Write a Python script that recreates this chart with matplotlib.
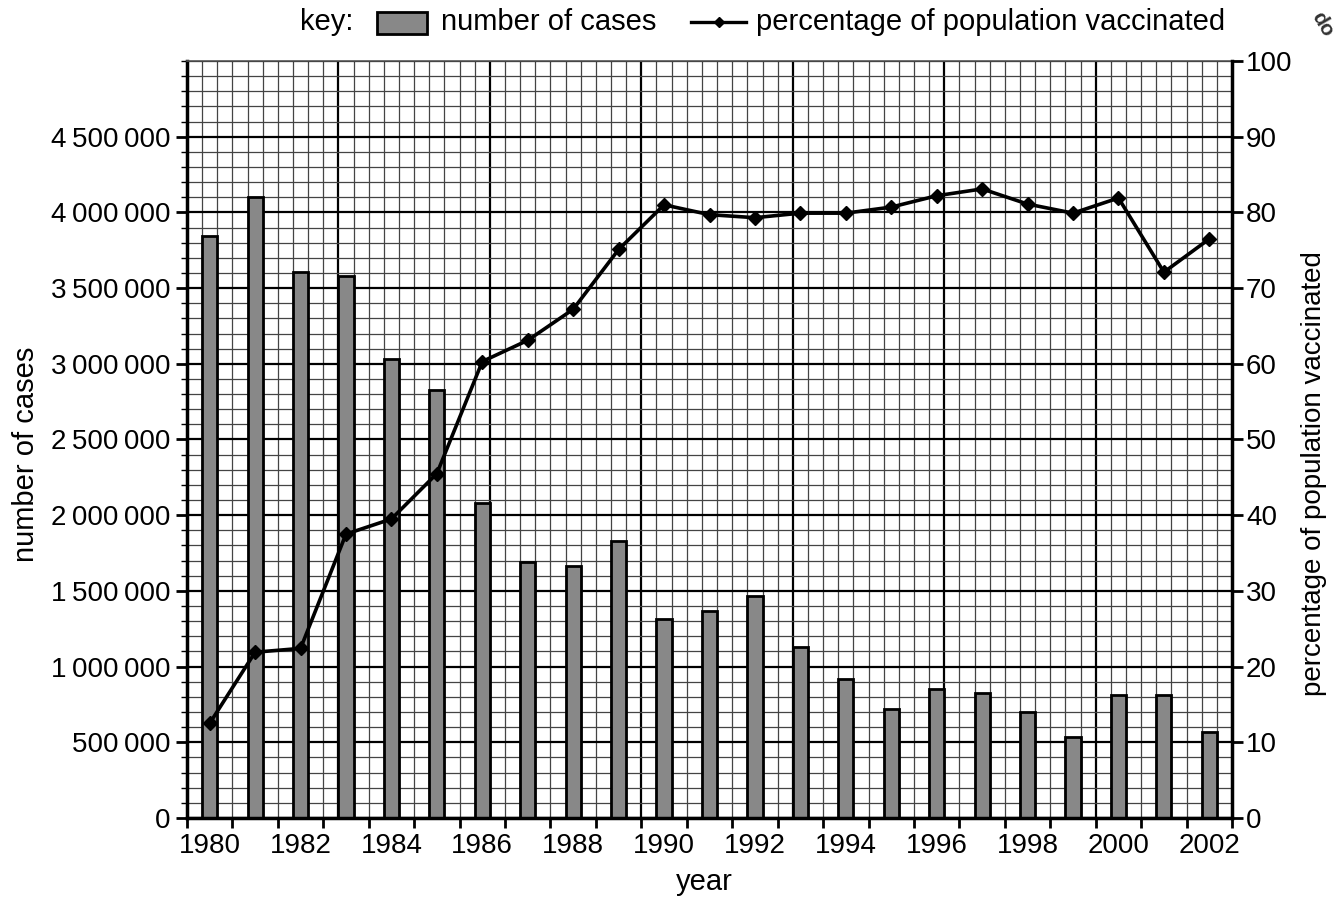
import numpy as np
import matplotlib
matplotlib.use('Agg')
import matplotlib.pyplot as plt
from matplotlib.patches import Rectangle
from matplotlib.lines import Line2D
from matplotlib.ticker import FuncFormatter

plt.rcParams['font.family'] = ['Liberation Sans', 'DejaVu Sans']
plt.rcParams['font.size'] = 20

# data
years = list(range(1980, 2003))
cases = [3845000, 4100000, 3605000, 3580000, 3030000, 2825000, 2080000,
         1690000, 1665000, 1830000, 1317000, 1366000, 1469000, 1132000,
         921000, 722000, 850000, 824000, 700000, 533000, 815000, 815000,
         570000]
vaccinated = [12.5, 21.9, 22.4, 37.5, 39.5, 45.5, 60.3, 63.1, 67.2, 75.1,
              81.0, 79.7, 79.3, 79.9, 79.9, 80.7, 82.2, 83.1, 81.1, 79.9,
              81.9, 72.1, 76.5]
year_labels = [str(y) for y in years[::2]]

n = len(years)
x = np.arange(n) + 0.5   # each year sits in its own slot

fig = plt.figure(figsize=(13.43, 8.97), dpi=100)
ax = fig.add_axes([0.1392, 0.0881, 0.9174 - 0.1392, 0.932 - 0.0881])
ax.set_xlim(0, n)
ax.set_ylim(0, 5000000)

# graph paper
minor_x = np.arange(0, 3 * n + 1) / 3
for i, gx in enumerate(minor_x):
    major = (i % 10 == 0)
    ax.axvline(gx, color='black' if major else '#444444',
               lw=1.6 if major else 0.9, zorder=0)
for j, gy in enumerate(np.arange(0, 5000001, 100000)):
    major = (j % 5 == 0)
    ax.axhline(gy, color='black' if major else '#444444',
               lw=1.6 if major else 0.9, zorder=0)

ax.bar(x, cases, width=1 / 3, color='#888888', edgecolor='black',
       linewidth=2.0, zorder=2)

# ticks
ax.set_xticks(np.arange(0, n + 1))
ax.set_xticklabels([])
ax.set_xticks(x[::2], minor=True)
ax.set_xticklabels(year_labels, minor=True)
ax.tick_params(axis='x', which='major', length=7, width=2, direction='out')
ax.tick_params(axis='x', which='minor', length=0, pad=11)

ax.set_yticks(np.arange(0, 4500001, 500000))
ax.set_yticks(np.arange(0, 5000001, 100000), minor=True)
ax.yaxis.set_major_formatter(FuncFormatter(
    lambda v, p: f'{int(v):,}'.replace(',', '\u2009')))
ax.tick_params(axis='y', which='major', length=8, width=2, pad=4)
ax.tick_params(axis='y', which='minor', length=4, width=1)

for side in ['left', 'bottom']:
    ax.spines[side].set_linewidth(2.5)
ax.spines['right'].set_visible(False)
ax.spines['top'].set_linewidth(1.2)
ax.spines['top'].set_color('#555555')

ax.set_xlabel('year', fontsize=21)
ax.xaxis.set_label_coords(0.495, -0.066)
ax.set_ylabel('number of cases', fontsize=21)
ax.yaxis.set_label_coords(-0.141, 0.48)

ax2 = ax.twinx()
ax2.set_ylim(0, 100)
ax2.plot(x, vaccinated, color='black', lw=2.6, marker='D', markersize=7.5,
         zorder=3)
ax2.set_yticks(np.arange(0, 101, 10))
ax2.tick_params(axis='y', length=8, width=2, pad=2)
ax2.spines['right'].set_linewidth(2.5)
ax2.spines['left'].set_visible(False)
ax2.spines['top'].set_visible(False)
ax2.spines['bottom'].set_visible(False)
ax2.set_ylabel('percentage of population vaccinated', fontsize=20)
ax2.yaxis.set_label_coords(1.066, 0.455)

# key across the top
ky = 1 - 22 / 897
fig.text(300 / 1343, ky, 'key:', va='center', ha='left', fontsize=21)
fig.add_artist(Rectangle((377 / 1343, 1 - 34 / 897), 50 / 1343, 22 / 897,
                         facecolor='#888888', edgecolor='black', lw=2.0,
                         transform=fig.transFigure))
fig.text(441 / 1343, ky, 'number of cases', va='center', ha='left',
         fontsize=21)
fig.add_artist(Line2D([691 / 1343, 746 / 1343], [ky, ky],
                      color='black', lw=2.4, transform=fig.transFigure))
fig.add_artist(Line2D([718.5 / 1343], [ky], color='black',
                      marker='D', markersize=5.5, transform=fig.transFigure))
fig.text(756 / 1343, ky, 'percentage of population vaccinated',
         va='center', ha='left', fontsize=21)

# corner stamp
fig.text(1322 / 1343, 1 - 24 / 897, 'do', rotation=-60, fontsize=15,
         fontweight='bold', color='#333333', ha='center', va='center')

fig.savefig('out.png', dpi=100)
